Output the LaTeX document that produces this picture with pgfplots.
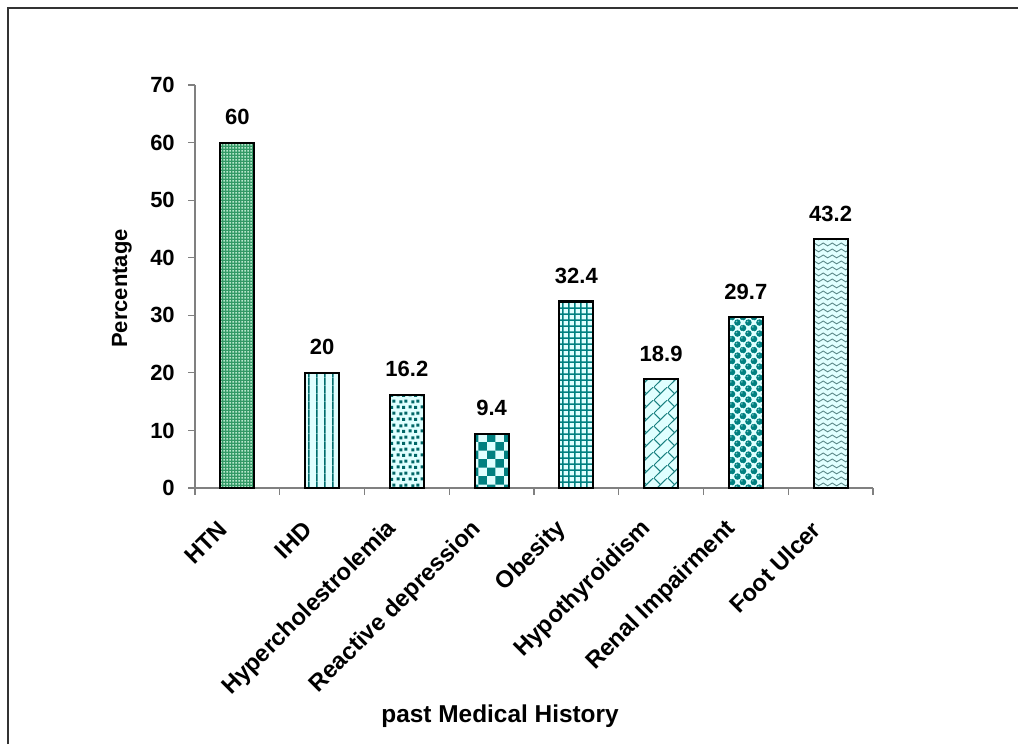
\documentclass[border=0pt]{standalone}
\usepackage{pgfplots}
\pgfplotsset{compat=1.18}
\usepackage{fontspec}
\setmainfont{Liberation Sans}
\usetikzlibrary{patterns.meta}

\definecolor{tealc}{RGB}{0,128,128}
\definecolor{cyanbg}{RGB}{224,255,255}
\definecolor{seagreen}{RGB}{51,153,102}
\definecolor{mint}{RGB}{185,232,205}
\definecolor{wavec}{RGB}{90,135,135}

% fill patterns for the bars
\tikzdeclarepattern{name=smalldots, type=uncolored,
  bottom left={(0pt,0pt)}, top right={(2.5pt,2.5pt)}, tile size={(2.5pt,2.5pt)},
  code={\fill (0.4pt,0.4pt) rectangle (1.7pt,1.7pt);}}
\tikzdeclarepattern{name=vstripes, type=uncolored,
  bottom left={(0pt,0pt)}, top right={(6.2pt,6.2pt)}, tile size={(6.2pt,6.2pt)},
  code={\fill (2.5pt,0pt) rectangle (3.8pt,6.2pt);}}
\tikzdeclarepattern{name=bigdots, type=uncolored,
  bottom left={(0pt,0pt)}, top right={(9pt,9pt)}, tile size={(9pt,9pt)},
  code={\fill (0.4pt,0.6pt) rectangle (2.8pt,3.0pt);
        \fill (4.9pt,0.2pt) rectangle (7.3pt,2.6pt);
        \fill (2.6pt,4.6pt) rectangle (5.0pt,7.0pt);
        \fill (6.6pt,5.2pt) rectangle (9.0pt,7.6pt);}}
\tikzdeclarepattern{name=checker, type=uncolored,
  bottom left={(0pt,0pt)}, top right={(12.6pt,12.6pt)}, tile size={(12.6pt,12.6pt)},
  code={\fill (0pt,0pt) rectangle (6.3pt,6.3pt);
        \fill (6.3pt,6.3pt) rectangle (12.6pt,12.6pt);}}
\tikzdeclarepattern{name=gridsq, type=uncolored,
  bottom left={(0pt,0pt)}, top right={(4.8pt,4.8pt)}, tile size={(4.8pt,4.8pt)},
  code={\fill (0pt,0pt) rectangle (4.8pt,1.4pt);
        \fill (0pt,0pt) rectangle (1.4pt,4.8pt);}}
\tikzdeclarepattern{name=diagbrick, type=uncolored,
  bottom left={(0pt,0pt)}, top right={(10pt,10pt)}, tile size={(10pt,10pt)},
  code={\draw[line width=0.75pt] (-1pt,-1pt) -- (11pt,11pt);
        \draw[line width=0.75pt] (5pt,5pt) -- (-0.5pt,10.5pt);}}
\tikzdeclarepattern{name=waves, type=uncolored,
  bottom left={(0pt,0pt)}, top right={(7pt,4.6pt)}, tile size={(7pt,4.6pt)},
  code={\draw[line width=0.75pt] (0pt,2.2pt) sin (1.75pt,3.4pt) cos (3.5pt,2.2pt)
        sin (5.25pt,1.0pt) cos (7pt,2.2pt);}}
\tikzdeclarepattern{name=spheres, type=colored,
  bottom left={(0pt,0pt)}, top right={(8.2pt,8.2pt)}, tile size={(8.2pt,8.2pt)},
  code={\foreach \p in {(0pt,0pt),(8.2pt,0pt),(0pt,8.2pt),(8.2pt,8.2pt),(4.1pt,4.1pt)}{
          \fill[tealc] \p circle (2.45pt);
          \fill[cyanbg!55!tealc] \p ++(-0.8pt,0.8pt) circle (0.65pt);}}}

\newcommand{\chartfont}{\fontsize{16.5}{19}\selectfont\bfseries}
\newcommand{\catfont}{\fontsize{17.8}{21}\selectfont\bfseries}
\newcommand{\titlefont}{\fontsize{18.3}{21}\selectfont\bfseries}

\begin{document}
\begin{tikzpicture}
\path[use as bounding box] (0pt,0pt) rectangle (763.5pt,558pt);
% outer frame
\draw[line width=1.2pt, black!80] (6pt,0pt) -- (6pt,552pt) -- (763.5pt,552pt);
\begin{axis}[
  at={(146.25pt,192pt)}, anchor=south west,
  width=508.5pt, height=302.25pt, scale only axis,
  axis lines*=left,
  axis line style={draw=gray, line width=1pt},
  every tick/.style={gray, line width=0.9pt},
  tick align=outside, major tick length=5pt,
  xmin=0.5, xmax=8.5, ymin=0, ymax=70,
  ytick={0,10,...,70},
  xtick={0.5,1.5,...,8.5}, xticklabels={},
  extra x ticks={1,2,3,4,5,6,7,8},
  extra x tick labels={HTN,IHD,Hypercholestrolemia,Reactive depression,Obesity,Hypothyroidism,Renal Impairment,Foot Ulcer},
  extra x tick style={major tick length=0pt,
    tick label style={font=\catfont, inner sep=0pt, xshift=-10.5pt, yshift=-28pt, rotate=45, anchor=east}},
  /pgf/number format/assume math mode=true,
  tick label style={font=\chartfont},
  yticklabel style={inner sep=0pt, anchor=east, xshift=-10pt},
  xlabel={past Medical History},
  ylabel={Percentage},
  label style={font=\chartfont},
  xlabel style={font=\titlefont, at={(axis description cs:0.45,-0.565)}, anchor=center},
  ylabel style={at={(axis description cs:-0.108,0.495)}, anchor=center},
  ybar, bar width=25.5pt, bar shift=0pt,
  clip=false,
  nodes near coords,
  every node near coord/.append style={font=\chartfont, inner sep=0pt, anchor=south, yshift=12.5pt},
  barstyle/.style={draw=black, line width=1.6pt},
]
\addplot[barstyle, preaction={fill=seagreen}, preaction={pattern=smalldots, pattern color=mint}] coordinates {(1,60)};
\addplot[barstyle, preaction={fill=cyanbg}, preaction={pattern=vstripes, pattern color=tealc!85!black}] coordinates {(2,20)};
\addplot[barstyle, preaction={fill=cyanbg}, preaction={pattern=bigdots, pattern color=tealc!80!black}] coordinates {(3,16.2)};
\addplot[barstyle, preaction={fill=cyanbg}, preaction={pattern=checker, pattern color=tealc}] coordinates {(4,9.4)};
\addplot[barstyle, preaction={fill=cyanbg}, preaction={pattern=gridsq, pattern color=tealc}] coordinates {(5,32.4)};
\addplot[barstyle, preaction={fill=cyanbg}, preaction={pattern=diagbrick, pattern color=tealc!80!gray}] coordinates {(6,18.9)};
\addplot[barstyle, preaction={fill=cyanbg}, preaction={pattern=spheres}] coordinates {(7,29.7)};
\addplot[barstyle, preaction={fill=cyanbg}, preaction={pattern=waves, pattern color=wavec}] coordinates {(8,43.2)};
\end{axis}
\end{tikzpicture}
\end{document}
